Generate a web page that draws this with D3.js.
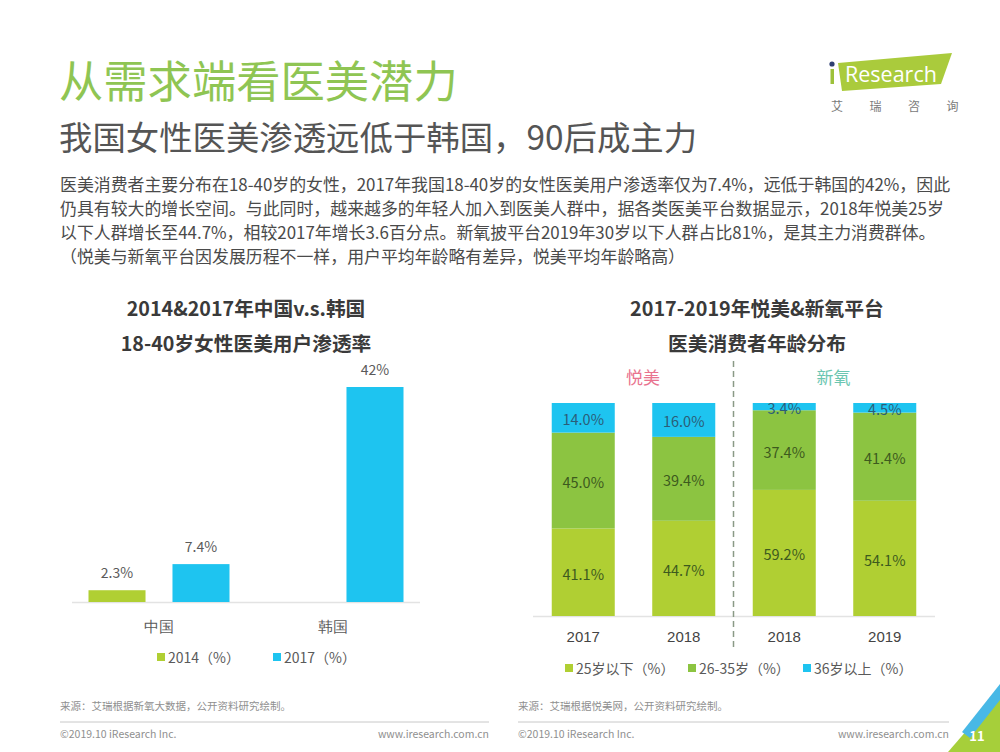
<!DOCTYPE html>
<html>
<head>
<meta charset="utf-8">
<script src="https://cdn.jsdelivr.net/npm/d3@7"></script>
<style>
  html, body { margin: 0; padding: 0; background: #fff; }
  svg { display: block; font-family: "Noto Sans CJK SC", "Noto Sans", sans-serif; }
</style>
</head>
<body>
<svg id="chart" width="1000" height="752"></svg>
<script>
// ---------- data ----------
const pageTitle = "从需求端看医美潜力";
const pageSubtitle = "我国女性医美渗透远低于韩国，90后成主力";
const paragraphLines = [
  "医美消费者主要分布在18-40岁的女性，2017年我国18-40岁的女性医美用户渗透率仅为7.4%，远低于韩国的42%，因此",
  "仍具有较大的增长空间。与此同时，越来越多的年轻人加入到医美人群中，据各类医美平台数据显示，2018年悦美25岁",
  "以下人群增长至44.7%，相较2017年增长3.6百分点。新氧披平台2019年30岁以下人群占比81%，是其主力消费群体。",
  "（悦美与新氧平台因发展历程不一样，用户平均年龄略有差异，悦美平均年龄略高）"
];

// left chart
const leftTitle = ["2014&2017年中国v.s.韩国", "18-40岁女性医美用户渗透率"];
const leftCategories = ["中国", "韩国"];
const leftSeriesNames = ["2014（%）", "2017（%）"];
const left2014 = [2.3, null];
const left2017 = [7.4, 42];
const leftValueLabels2014 = ["2.3%", ""];
const leftValueLabels2017 = ["7.4%", "42%"];

// right chart
const rightTitle = ["2017-2019年悦美&新氧平台", "医美消费者年龄分布"];
const platforms = ["悦美", "悦美", "新氧", "新氧"];
const years = ["2017", "2018", "2018", "2019"];
const ageGroups = ["25岁以下（%）", "26-35岁（%）", "36岁以上（%）"];
const under25 = [41.1, 44.7, 59.2, 54.1];
const age26to35 = [45.0, 39.4, 37.4, 41.4];
const over36 = [14.0, 16.0, 3.4, 4.5];

const sourceLeft = "来源：艾瑞根据新氧大数据，公开资料研究绘制。";
const sourceRight = "来源：艾瑞根据悦美网，公开资料研究绘制。";
const copyright = "©2019.10 iResearch Inc.";
const website = "www.iresearch.com.cn";
const pageNumber = "11";

// ---------- styles ----------
const C = {
  title: "#8fc553",
  subtitle: "#555555",
  text: "#4a4a4a",
  chartTitle: "#3a3a3a",
  lightGreen: "#b0cf33",
  midGreen: "#8cc441",
  blue: "#1ec4f0",
  axis: "#e3e3e3",
  label: "#5a5a5a",
  segLabel: "#3d5a1e",
  segLabelBlue: "#2b5d78",
  pink: "#e9738f",
  teal: "#6cc6b1",
  footer: "#8f8f8f"
};

const svg = d3.select("#chart");
svg.append("rect").attr("width", 1000).attr("height", 752).attr("fill", "#fff");

// ---------- header ----------
svg.append("text").attr("x", 59).attr("y", 98).attr("font-size", 44.3)
  .attr("fill", C.title).text(pageTitle);
svg.append("text").attr("x", 59).attr("y", 150).attr("font-size", 33.4)
  .attr("fill", C.subtitle).text(pageSubtitle);

svg.append("g").selectAll("text").data(paragraphLines).join("text")
  .attr("x", 60)
  .attr("y", (d, i) => 191 + i * 24)
  .attr("font-size", 16.9)
  .attr("fill", C.text)
  .text(d => d);

// logo
const logo = svg.append("g");
logo.append("polygon").attr("points", "838,63 952,53 941,84 842,91").attr("fill", "#aacb3c");
logo.append("circle").attr("cx", 832).attr("cy", 64).attr("r", 2.6).attr("fill", "#2e3f72");
logo.append("rect").attr("x", 830.5).attr("y", 69).attr("width", 3.5).attr("height", 15).attr("fill", "#9dc13a");
logo.append("text").attr("x", 845).attr("y", 82).attr("font-size", 21.5).attr("font-family", "Open Sans, sans-serif")
  .attr("fill", "#fff").text("Research");
logo.append("g").selectAll("text").data(["艾", "瑞", "咨", "询"]).join("text")
  .attr("x", (d, i) => 837 + i * 38.5).attr("y", 111).attr("text-anchor", "middle")
  .attr("font-size", 12).attr("fill", "#7a7a7a").text(d => d);

// ---------- left chart ----------
const L = { x0: 72, x1: 420, base: 602, top: 387 };
svg.append("g").selectAll("text").data(leftTitle).join("text")
  .attr("x", 246).attr("y", (d, i) => 307 + i * 35)
  .attr("text-anchor", "middle").attr("dominant-baseline", "central")
  .attr("font-size", 19.7).attr("font-weight", "bold").attr("fill", C.chartTitle).text(d => d);

const xL = d3.scaleBand().domain(leftCategories).range([L.x0, L.x1]).padding(0);
const xL1 = d3.scaleBand().domain(leftSeriesNames)
  .range([16.5, xL.bandwidth() - 16.5]).paddingInner(0.321).paddingOuter(0);
const yL = d3.scaleLinear().domain([0, 42]).range([L.base, L.top]);

const leftData = leftCategories.map((c, i) => ({
  cat: c,
  vals: [
    { s: leftSeriesNames[0], v: left2014[i], lbl: leftValueLabels2014[i], color: C.lightGreen },
    { s: leftSeriesNames[1], v: left2017[i], lbl: leftValueLabels2017[i], color: C.blue }
  ].filter(d => d.v != null)
}));

const gL = svg.append("g");
gL.append("line").attr("x1", L.x0).attr("x2", L.x1).attr("y1", L.base + 0.5).attr("y2", L.base + 0.5)
  .attr("stroke", C.axis).attr("stroke-width", 1.5);
const groupsL = gL.selectAll("g.cat").data(leftData).join("g")
  .attr("transform", d => `translate(${xL(d.cat)},0)`);
groupsL.selectAll("rect").data(d => d.vals).join("rect")
  .attr("x", d => xL1(d.s)).attr("width", xL1.bandwidth())
  .attr("y", d => yL(d.v)).attr("height", d => yL(0) - yL(d.v))
  .attr("fill", d => d.color);
groupsL.selectAll("text.val").data(d => d.vals).join("text").attr("class", "val")
  .attr("x", d => xL1(d.s) + xL1.bandwidth() / 2).attr("y", d => yL(d.v) - 12)
  .attr("text-anchor", "middle").attr("font-size", 14).attr("fill", C.label).text(d => d.lbl);

const xAxisL = d3.axisBottom(xL).tickSize(0).tickPadding(0);
const axL = gL.append("g").attr("transform", `translate(0,${L.base})`).call(xAxisL);
axL.select(".domain").remove();
axL.selectAll("text").attr("y", 24).attr("dy", null).attr("dominant-baseline", "central")
  .attr("font-size", 15).attr("fill", C.label).attr("font-family", null);

const legL = svg.append("g");
const legLX = [157, 273];
leftSeriesNames.forEach((n, i) => {
  legL.append("rect").attr("x", legLX[i]).attr("y", 653).attr("width", 8).attr("height", 8)
    .attr("fill", i === 0 ? C.lightGreen : C.blue);
  legL.append("text").attr("x", legLX[i] + 11).attr("y", 657).attr("dominant-baseline", "central")
    .attr("font-size", 14).attr("fill", C.label).text(n);
});

// ---------- right chart ----------
const R = { x0: 533, x1: 935, base: 616, top: 403 };
svg.append("g").selectAll("text").data(rightTitle).join("text")
  .attr("x", 757).attr("y", (d, i) => 307 + i * 35)
  .attr("text-anchor", "middle").attr("dominant-baseline", "central")
  .attr("font-size", 19.8).attr("font-weight", "bold").attr("fill", C.chartTitle).text(d => d);

const keys = years.map((y, i) => platforms[i] + y);
const xR = d3.scaleBand().domain(keys).range([R.x0, R.x1]).paddingInner(0.373).paddingOuter(0.1865);
const yR = d3.scaleLinear().domain([0, 100]).range([R.base, R.top]);

const rows = keys.map((k, i) => ({ key: k, [ageGroups[0]]: under25[i], [ageGroups[1]]: age26to35[i], [ageGroups[2]]: over36[i] }));
const stacked = d3.stack().keys(ageGroups)(rows);
const segColors = [C.lightGreen, C.midGreen, C.blue];

const gR = svg.append("g");
gR.append("line").attr("x1", R.x0).attr("x2", R.x1).attr("y1", R.base + 0.5).attr("y2", R.base + 0.5)
  .attr("stroke", C.axis).attr("stroke-width", 1.5);

stacked.forEach((layer, li) => {
  const g = gR.append("g");
  g.selectAll("rect").data(layer).join("rect")
    .attr("x", d => xR(d.data.key)).attr("width", xR.bandwidth())
    .attr("y", d => yR(Math.min(d[1], 100))).attr("height", d => yR(d[0]) - yR(Math.min(d[1], 100)))
    .attr("fill", segColors[li]);
  g.selectAll("text").data(layer).join("text")
    .attr("x", d => xR(d.data.key) + xR.bandwidth() / 2)
    .attr("y", d => (yR(d[0]) + yR(Math.min(d[1], 100))) / 2 + 1)
    .attr("text-anchor", "middle").attr("dominant-baseline", "central")
    .attr("font-size", 14.5).attr("fill", li === 2 ? C.segLabelBlue : C.segLabel)
    .text(d => (d[1] - d[0]).toFixed(1) + "%");
});

const xAxisR = d3.axisBottom(xR).tickSize(0).tickPadding(0).tickFormat(k => years[keys.indexOf(k)]);
const axR = gR.append("g").attr("transform", `translate(0,${R.base})`).call(xAxisR);
axR.select(".domain").remove();
axR.selectAll("text").attr("y", 20).attr("dy", null).attr("dominant-baseline", "central")
  .attr("font-size", 15).attr("fill", "#444").attr("font-family", null);

// divider
gR.append("line").attr("x1", 733.5).attr("x2", 733.5).attr("y1", 361).attr("y2", 648)
  .attr("stroke", "#8a9a86").attr("stroke-width", 1.5).attr("stroke-dasharray", "6,4");

// platform labels
const platformNames = Array.from(new Set(platforms));
const platformColors = [C.pink, C.teal];
platformNames.forEach((p, i) => {
  const ks = keys.filter((k, j) => platforms[j] === p);
  const cx = (xR(ks[0]) + xR(ks[ks.length - 1]) + xR.bandwidth()) / 2;
  gR.append("text").attr("x", cx + (i === 0 ? 9.5 : -1)).attr("y", 376)
    .attr("text-anchor", "middle").attr("dominant-baseline", "central")
    .attr("font-size", 17).attr("fill", platformColors[i]).text(p);
});

const legR = svg.append("g");
const legRX = [565, 688, 803];
ageGroups.forEach((n, i) => {
  legR.append("rect").attr("x", legRX[i]).attr("y", 664).attr("width", 8).attr("height", 8)
    .attr("fill", segColors[i]);
  legR.append("text").attr("x", legRX[i] + 11).attr("y", 668).attr("dominant-baseline", "central")
    .attr("font-size", 14).attr("fill", C.label).text(n);
});

// ---------- footer ----------
const foot = svg.append("g").attr("fill", C.footer).attr("font-size", 10.5);
[[60, 489, sourceLeft], [518, 949, sourceRight]].forEach(([x0, x1, src]) => {
  foot.append("text").attr("x", x0).attr("y", 710).text(src);
  foot.append("line").attr("x1", x0).attr("x2", x1).attr("y1", 722).attr("y2", 722)
    .attr("stroke", "#c8c8c8").attr("stroke-width", 1);
  foot.append("text").attr("x", x0).attr("y", 738).text(copyright);
  foot.append("text").attr("x", x1).attr("y", 738).attr("text-anchor", "end").text(website);
});

// corner decoration
svg.append("polygon").attr("points", "948,752 1000,692 1000,752").attr("fill", "#a6cf3a");
svg.append("polygon").attr("points", "962,732 1000,684 1000,700 970,738").attr("fill", "#48b8e6");
svg.append("text").attr("x", 977).attr("y", 741).attr("text-anchor", "middle")
  .attr("font-size", 13).attr("font-weight", "bold").attr("fill", "#fff").text(pageNumber);
</script>
</body>
</html>
